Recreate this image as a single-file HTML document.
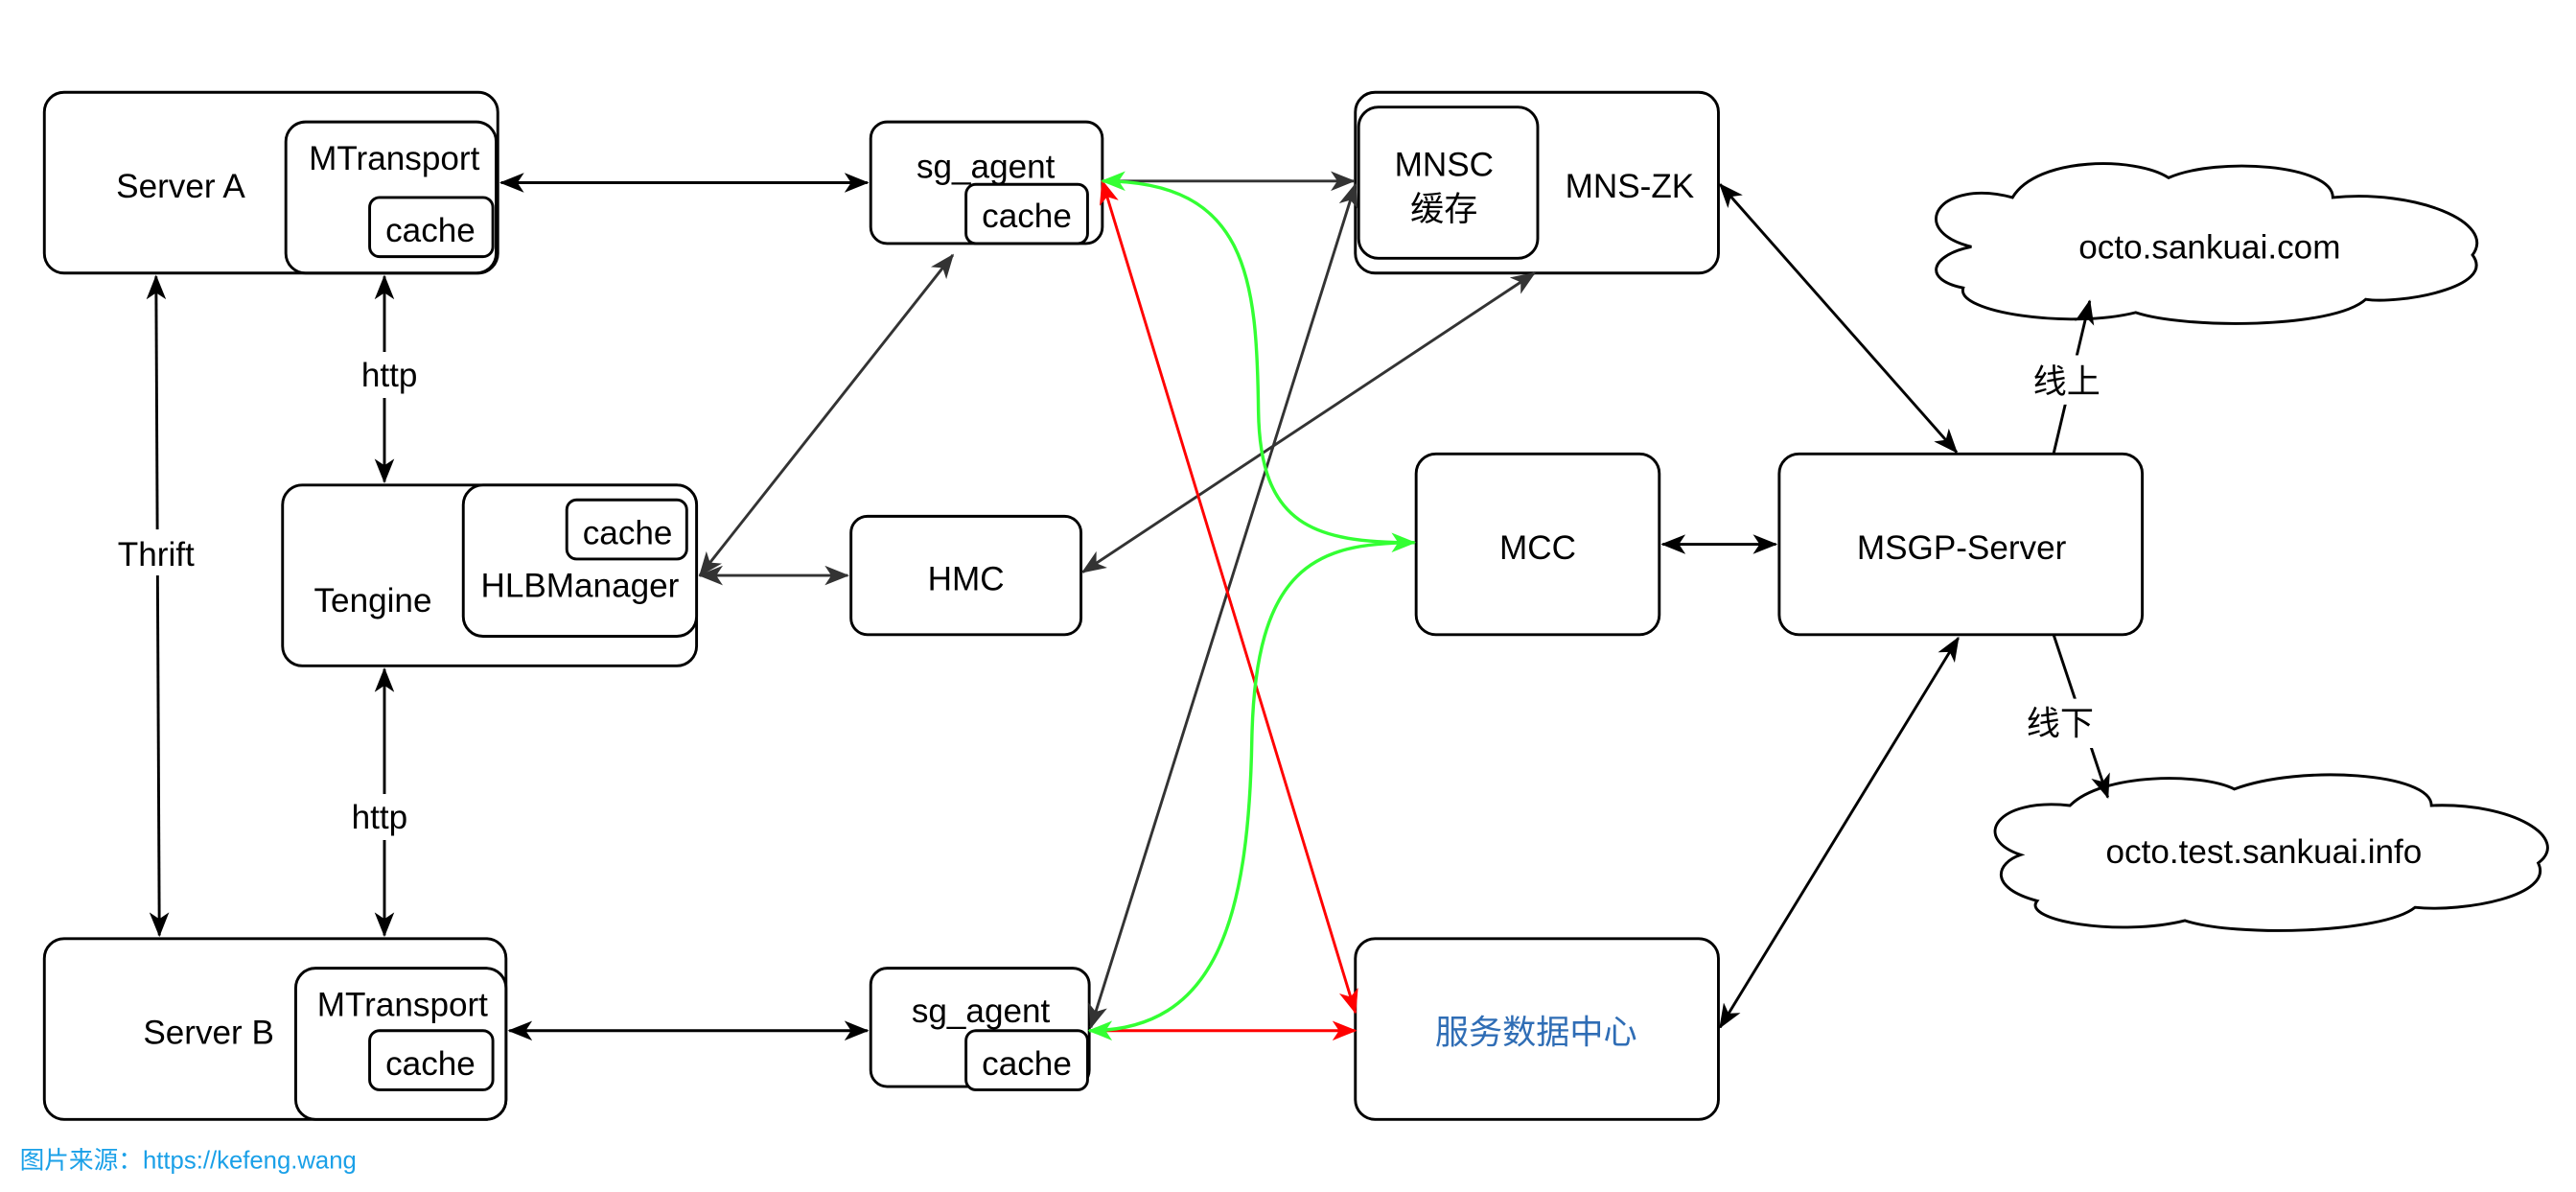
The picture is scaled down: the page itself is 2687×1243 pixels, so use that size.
<!DOCTYPE html>
<html><head><meta charset="utf-8"><style>
html,body{margin:0;padding:0;background:#fff;}
svg{display:block;}
text{font-family:"Liberation Sans","Noto Sans CJK SC",sans-serif;font-size:20.5px;fill:#000;}
</style></head><body>
<svg width="2687" height="1243" viewBox="0 0 1568 725" xmlns="http://www.w3.org/2000/svg">
<defs>
<marker id="k" viewBox="0 0 15 12" refX="14" refY="6" markerWidth="15" markerHeight="12" markerUnits="userSpaceOnUse" orient="auto-start-reverse"><path d="M0,0 L15,6 L0,12 L4,6 Z" fill="#000"/></marker>
<marker id="g" viewBox="0 0 15 12" refX="14" refY="6" markerWidth="15" markerHeight="12" markerUnits="userSpaceOnUse" orient="auto-start-reverse"><path d="M0,0 L15,6 L0,12 L4,6 Z" fill="#333"/></marker>
<marker id="r" viewBox="0 0 15 12" refX="14" refY="6" markerWidth="15" markerHeight="12" markerUnits="userSpaceOnUse" orient="auto-start-reverse"><path d="M0,0 L15,6 L0,12 L4,6 Z" fill="#f00"/></marker>
<marker id="gr" viewBox="0 0 15 12" refX="14" refY="6" markerWidth="15" markerHeight="12" markerUnits="userSpaceOnUse" orient="auto-start-reverse"><path d="M0,0 L15,6 L0,12 L4,6 Z" fill="#33ff33"/></marker>
</defs>
<g fill="#fff" stroke="#000" stroke-width="1.7">
<rect x="27" y="56" width="276" height="110" rx="12"/>
<rect x="174" y="74" width="128" height="92" rx="12"/>
<rect x="225" y="120" width="75" height="36" rx="6"/>
<rect x="530" y="74" width="141" height="74" rx="10"/>
<rect x="588" y="112" width="74" height="36" rx="6"/>
<rect x="825" y="56" width="221" height="110" rx="12"/>
<rect x="827" y="65" width="109" height="92" rx="12"/>
<rect x="172" y="295" width="252" height="110" rx="12"/>
<rect x="282" y="295" width="142" height="92" rx="12"/>
<rect x="345" y="304" width="73" height="36" rx="6"/>
<rect x="518" y="314" width="140" height="72" rx="10"/>
<rect x="862" y="276" width="148" height="110" rx="12"/>
<rect x="1083" y="276" width="221" height="110" rx="12"/>
<rect x="27" y="571" width="281" height="110" rx="12"/>
<rect x="180" y="589" width="128" height="92" rx="12"/>
<rect x="225" y="627" width="75" height="36" rx="6"/>
<rect x="530" y="589" width="133" height="72" rx="10"/>
<rect x="588" y="627" width="74" height="36" rx="6"/>
<rect x="825" y="571" width="221" height="110" rx="12"/>
<path d="M1200,150 C1160,140 1180,108 1225,120 C1240,95 1300,95 1320,108 C1350,95 1420,100 1420,120 C1470,115 1520,135 1505,155 C1520,175 1460,185 1440,182 C1420,200 1330,200 1300,190 C1260,200 1190,190 1195,175 C1170,170 1175,155 1200,150 Z"/>
<path d="M1230,520 C1200,510 1215,485 1260,490 C1280,470 1340,470 1360,480 C1400,465 1480,470 1480,490 C1530,488 1565,510 1545,525 C1555,545 1500,555 1470,552 C1450,568 1360,570 1330,560 C1290,570 1230,560 1240,548 C1210,540 1215,525 1230,520 Z"/>
</g>
<g stroke-width="1.7" fill="none">
<line x1="305" y1="111" x2="528" y2="111" stroke="#000" marker-start="url(#k)" marker-end="url(#k)"/>
<line x1="234" y1="168" x2="234" y2="293" stroke="#000" marker-start="url(#k)" marker-end="url(#k)"/>
<line x1="95" y1="168" x2="97" y2="569" stroke="#000" marker-start="url(#k)" marker-end="url(#k)"/>
<line x1="234" y1="407" x2="234" y2="569" stroke="#000" marker-start="url(#k)" marker-end="url(#k)"/>
<line x1="310" y1="627" x2="528" y2="627" stroke="#000" marker-start="url(#k)" marker-end="url(#k)"/>
<line x1="426" y1="350" x2="516" y2="350" stroke="#333" marker-start="url(#g)" marker-end="url(#g)"/>
<line x1="426" y1="350" x2="580" y2="155" stroke="#333" marker-start="url(#g)" marker-end="url(#g)"/>
<line x1="671" y1="110" x2="824" y2="110" stroke="#333" marker-end="url(#g)"/>
<line x1="659" y1="348" x2="934" y2="166" stroke="#333" marker-start="url(#g)" marker-end="url(#g)"/>
<line x1="664" y1="625" x2="825" y2="112" stroke="#333" marker-start="url(#g)" marker-end="url(#g)"/>
<line x1="671" y1="110" x2="825" y2="616" stroke="#f00" marker-start="url(#r)" marker-end="url(#r)"/>
<line x1="665" y1="627" x2="825" y2="627" stroke="#f00" marker-end="url(#r)"/>
<path d="M671,110 C760,110 765,170 766,250 C767,320 800,330 861,330" stroke="#33ff33" stroke-width="2" marker-start="url(#gr)" marker-end="url(#gr)"/>
<path d="M663,627 C740,627 760,560 762,450 C764,345 800,330 861,330" stroke="#33ff33" stroke-width="2" marker-start="url(#gr)"/>
<line x1="1012" y1="331" x2="1081" y2="331" stroke="#000" marker-start="url(#k)" marker-end="url(#k)"/>
<line x1="1047" y1="112" x2="1191" y2="275" stroke="#000" marker-start="url(#k)" marker-end="url(#k)"/>
<line x1="1192" y1="388" x2="1047" y2="625" stroke="#000" marker-start="url(#k)" marker-end="url(#k)"/>
<line x1="1250" y1="276" x2="1272" y2="183" stroke="#000" marker-end="url(#k)"/>
<line x1="1250" y1="386" x2="1283" y2="485" stroke="#000" marker-end="url(#k)"/>
</g>
<g text-anchor="middle">
<rect x="212" y="214" width="46" height="28" fill="#fff"/>
<rect x="66" y="322" width="58" height="28" fill="#fff"/>
<rect x="208" y="483" width="46" height="28" fill="#fff"/>
<rect x="1232" y="216" width="52" height="30" fill="#fff"/>
<rect x="1228" y="425" width="52" height="30" fill="#fff"/>
<text x="110" y="120">Server A</text>
<text x="240" y="103">MTransport</text>
<text x="262" y="147">cache</text>
<text x="600" y="108">sg_agent</text>
<text x="625" y="138">cache</text>
<text x="879" y="107">MNSC</text>
<text x="879" y="134">缓存</text>
<text x="992" y="120">MNS-ZK</text>
<text x="1345" y="157">octo.sankuai.com</text>
<text x="237" y="235">http</text>
<text x="95" y="344">Thrift</text>
<text x="231" y="504">http</text>
<text x="227" y="372">Tengine</text>
<text x="353" y="363">HLBManager</text>
<text x="382" y="331">cache</text>
<text x="588" y="359">HMC</text>
<text x="936" y="340">MCC</text>
<text x="1194" y="340">MSGP-Server</text>
<text x="1258" y="239">线上</text>
<text x="1254" y="447">线下</text>
<text x="1378" y="525">octo.test.sankuai.info</text>
<text x="127" y="635">Server B</text>
<text x="245" y="618">MTransport</text>
<text x="262" y="654">cache</text>
<text x="597" y="622">sg_agent</text>
<text x="625" y="654">cache</text>
<text x="935" y="635" style="fill:#2f6db5">服务数据中心</text>
</g>
<text x="12" y="711" style="font-size:15px;fill:#1aa0e8">图片来源：https://kefeng.wang</text>
</svg>
</body></html>
